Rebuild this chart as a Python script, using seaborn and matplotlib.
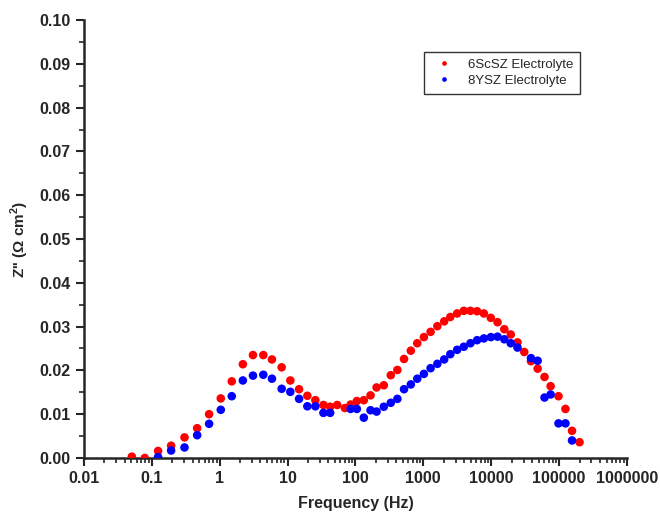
import numpy as np
import pandas as pd
import matplotlib
matplotlib.use("Agg")
import matplotlib.pyplot as plt
import seaborn as sns
from matplotlib.ticker import LogLocator, MultipleLocator, FixedLocator

# 6ScSZ electrolyte: frequency (Hz) and Z'' (ohm cm2)
scsz_freq = [0.051, 0.079, 0.124, 0.193, 0.304, 0.467, 0.70, 1.04, 1.51, 2.2,
             3.1, 4.4, 5.9, 8.2, 11.0, 14.8, 19.6, 25.7, 33.8, 42.5,
             54, 70, 85, 105, 133, 167, 205, 262, 332, 415,
             520, 655, 815, 1020, 1280, 1610, 2030, 2500, 3150, 3950,
             4950, 6200, 7800, 9860, 12400, 15600, 19400, 24400, 30700, 38500,
             48300, 61000, 75000, 98000, 124000, 155000, 200000]
scsz_z = [0.0003, 0.0, 0.0016, 0.0028, 0.0047, 0.0068, 0.0100, 0.0136, 0.0175, 0.0214,
          0.0235, 0.0235, 0.0225, 0.0207, 0.0177, 0.0157, 0.0142, 0.0132, 0.0121, 0.0117,
          0.0121, 0.0114, 0.0122, 0.0130, 0.0132, 0.0143, 0.0161, 0.0166, 0.0189, 0.0201,
          0.0226, 0.0245, 0.0262, 0.0276, 0.0288, 0.0301, 0.0312, 0.0322, 0.0330, 0.0336,
          0.0336, 0.0335, 0.0330, 0.0320, 0.0310, 0.0294, 0.0282, 0.0264, 0.0242, 0.0221,
          0.0204, 0.0185, 0.0164, 0.0141, 0.0112, 0.0062, 0.0036]

# 8YSZ electrolyte
ysz_freq = [0.124, 0.193, 0.304, 0.467, 0.70, 1.04, 1.51, 2.2, 3.1, 4.4,
            5.9, 8.2, 11.0, 14.8, 19.6, 25.7, 33.8, 42.5, 85, 105,
            133, 167, 205, 262, 332, 415, 520, 655, 815, 1020,
            1280, 1610, 2030, 2500, 3150, 3950, 4950, 6200, 7800, 9900,
            12400, 15600, 19400, 24400, 38500, 48300, 61000, 75000, 98000, 124000,
            155000]
ysz_z = [0.0002, 0.0017, 0.0024, 0.0052, 0.0078, 0.0110, 0.0141, 0.0177, 0.0188, 0.0190,
         0.0181, 0.0158, 0.0151, 0.0135, 0.0118, 0.0118, 0.0103, 0.0103, 0.0112, 0.0112,
         0.0092, 0.0109, 0.0106, 0.0117, 0.0126, 0.0135, 0.0157, 0.0168, 0.0181, 0.0192,
         0.0205, 0.0215, 0.0225, 0.0237, 0.0247, 0.0254, 0.0262, 0.0269, 0.0273, 0.0276,
         0.0277, 0.0271, 0.0262, 0.0252, 0.0228, 0.0222, 0.0138, 0.0145, 0.0079, 0.0079,
         0.0040]

labels = ["6ScSZ Electrolyte", "8YSZ Electrolyte"]
x_ticks = [0.01, 0.1, 1, 10, 100, 1000, 10000, 100000, 1000000]
x_ticklabels = ["0.01", "0.1", "1", "10", "100", "1000", "10000", "100000", "1000000"]

df = pd.concat([
    pd.DataFrame({"Frequency": scsz_freq, "Z": scsz_z, "Sample": labels[0]}),
    pd.DataFrame({"Frequency": ysz_freq, "Z": ysz_z, "Sample": labels[1]}),
])

sns.set_style("ticks")
plt.rcParams['font.family'] = ['Liberation Sans', 'DejaVu Sans']
plt.rcParams['mathtext.fontset'] = 'custom'
plt.rcParams['mathtext.rm'] = 'Liberation Sans:bold'
plt.rcParams['mathtext.bf'] = 'Liberation Sans:bold'

fig = plt.figure(figsize=(6.6, 5.14), dpi=100)
ax = fig.add_axes([0.127, 0.109, 0.823, 0.852])

sns.scatterplot(data=df, x="Frequency", y="Z", hue="Sample",
                palette={labels[0]: "#ff0000", labels[1]: "#0000ff"},
                s=38, linewidth=0, ax=ax, zorder=3)

ax.set_xscale("log")
ax.set_xlim(0.01, 1000000)
ax.set_ylim(0, 0.1)
ax.xaxis.set_major_locator(FixedLocator(x_ticks))
ax.set_xticks(x_ticks)
ax.set_xticklabels(x_ticklabels)
ax.xaxis.set_minor_locator(LogLocator(base=10, subs=np.arange(2, 10), numticks=20))
ax.yaxis.set_major_locator(MultipleLocator(0.01))
ax.yaxis.set_minor_locator(MultipleLocator(0.005))
ax.yaxis.set_major_formatter(matplotlib.ticker.FormatStrFormatter("%.2f"))

for side in ["top", "right"]:
    ax.spines[side].set_visible(False)
for side in ["left", "bottom"]:
    ax.spines[side].set_linewidth(1.8)
ax.tick_params(which="major", direction="out", length=6, width=1.5, labelsize=11.5)
ax.tick_params(which="minor", direction="out", length=3.5, width=1.2)
for lab in ax.get_xticklabels() + ax.get_yticklabels():
    lab.set_fontweight("bold")

ax.set_xlabel("Frequency (Hz)", fontsize=11.5, fontweight="bold", labelpad=7)
ax.set_ylabel("Z'' ($\\Omega$ cm$^2$)", fontsize=11, fontweight="bold", labelpad=6)

leg = ax.legend(loc="upper right", bbox_to_anchor=(0.913, 0.927), borderaxespad=0,
                frameon=True, fancybox=False, fontsize=9.5, markerscale=0.55,
                handletextpad=0.8, borderpad=0.5, labelspacing=0.3)
leg.get_frame().set_edgecolor("black")
leg.get_frame().set_linewidth(1.0)

fig.savefig("out.png", dpi=100)
